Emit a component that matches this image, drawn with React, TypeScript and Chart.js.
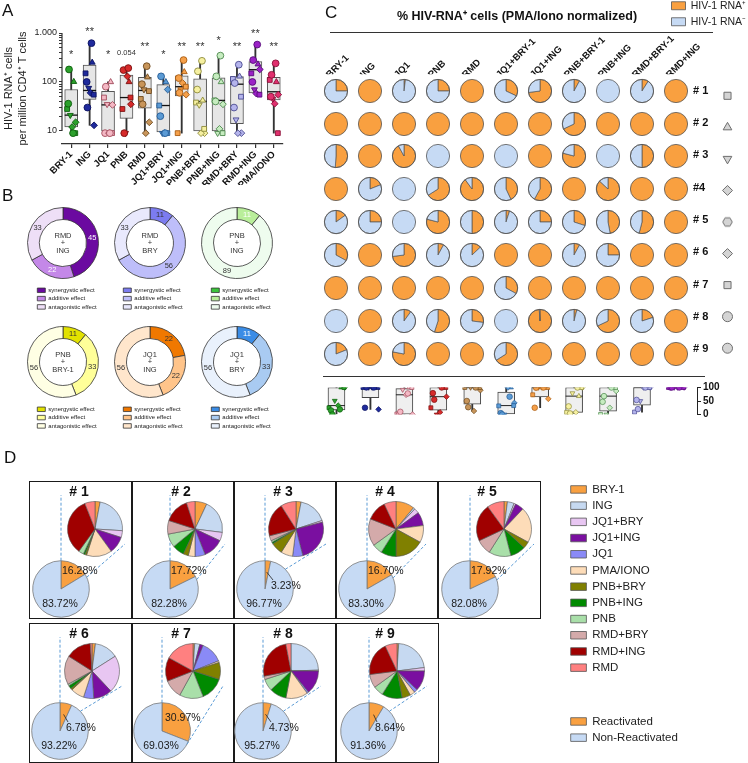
import React, { useEffect, useRef } from 'react';
import { Chart, registerables } from 'chart.js';

Chart.register(...registerables);
Chart.defaults.font.family = '"Liberation Sans", Arial, sans-serif';
Chart.defaults.color = '#222';
const FONT = '"Liberation Sans", Arial, sans-serif';

// ================= DATA =================
// Panel A
const catsA = ['BRY-1', 'ING', 'JQ1', 'PNB', 'RMD', 'JQ1+BRY', 'JQ1+ING', 'PNB+BRY', 'PNB+ING', 'RMD+BRY', 'RMD+ING', 'PMA/IONO'];
const minA = [9, 13, 9, 9, 9, 9, 9, 9, 9, 9, 55, 9];
const q1A = [12, 44, 10, 18, 29, 9.5, 52, 10, 10, 14, 60, 43];
const medA = [21, 67, 34, 48, 67, 33, 80, 40, 42, 90, 178, 63];
const q3A = [70, 222, 64, 138, 125, 88, 133, 116, 122, 128, 260, 125];
const maxA = [180, 620, 100, 192, 210, 130, 280, 270, 345, 225, 580, 240];
const pointsBRY = [28, 101, 21, 15, 36, 12, 9, 180, 9];
const pointsING = [150, 250, 75, 13, 100, 60, 55, 30, 620];
const pointsJQ1 = [48, 100, 35, 34, 9, 9, 9, 80, 9];
const pointsPNB = [28, 100, 9, 35, 175, 130, 48, 9, 192];
const pointsRMD = [45, 125, 70, 15, 90, 9, 65, 35, 210];
const pointsJQ1BRY = [33, 100, 9, 70, 20, 9, 9, 130, 9];
const pointsJQ1ING = [9, 160, 70, 55, 120, 95, 80, 60, 280];
const pointsPNBBRY = [38, 42, 34, 9, 70, 9, 11, 165, 270];
const pointsPNBING = [42, 100, 9, 35, 40, 11, 9, 130, 345];
const pointsRMDBRY = [115, 130, 17, 9, 30, 9, 50, 95, 225];
const pointsRMDING = [150, 230, 70, 180, 100, 58, 55, 280, 580];
const pointsPMA = [110, 100, 45, 55, 50, 36, 9, 140, 240];
const pointsA = [pointsBRY, pointsING, pointsJQ1, pointsPNB, pointsRMD, pointsJQ1BRY, pointsJQ1ING, pointsPNBBRY, pointsPNBING, pointsRMDBRY, pointsRMDING, pointsPMA];
const sigA = ['*', '**', '*', '0.054', '**', '*', '**', '**', '*', '**', '**', '**'];
const sigYA = [350, 1070, 350, 390, 528, 350, 528, 528, 703, 528, 935, 528];
const yTicksA = [10, 20, 30, 40, 50, 60, 70, 80, 90, 100, 200, 300, 400, 500, 600, 700, 800, 900, 1000];

// Panel B
const namesB = [['RMD', '+', 'ING'], ['RMD', '+', 'BRY'], ['PNB', '+', 'ING'], ['PNB', '+', 'BRY-1'], ['JQ1', '+', 'ING'], ['JQ1', '+', 'BRY']];
const effectLabels = ['synergystic effect', 'additive effect', 'antagonistic effect'];
const synergyB = [45, 11, 0, 11, 22, 11];
const additiveB = [22, 56, 11, 33, 22, 33];
const antagonB = [33, 33, 89, 56, 56, 56];

// Panel C
const colsC = ['BRY-1', 'ING', 'JQ1', 'PNB', 'RMD', 'JQ1+BRY-1', 'JQ1+ING', 'PNB+BRY-1', 'PNB+ING', 'RMD+BRY-1', 'RMD+ING'];
const donorLabels = ['# 1', '# 2', '# 3', '#4', '# 5', '# 6', '# 7', '# 8', '# 9'];
const rnaPos1 = [25, 100, 2, 25, 100, 32, 73, 8, 0, 9, 100];
const rnaPos2 = [100, 100, 100, 100, 100, 100, 100, 68, 100, 100, 100];
const rnaPos3 = [51, 100, 92, 0, 100, 0, 100, 79, 0, 50, 100];
const rnaPos4 = [100, 19, 0, 66, 90, 43, 58, 100, 87, 100, 100];
const rnaPos5 = [15, 25, 0, 79, 50, 5, 25, 30, 47, 54, 100];
const rnaPos6 = [33, 100, 73, 8, 13, 100, 100, 8, 25, 100, 100];
const rnaPos7 = [100, 100, 100, 100, 100, 33, 100, 100, 100, 100, 100];
const rnaPos8 = [0, 100, 10, 55, 27, 0, 99, 4, 68, 20, 100];
const rnaPos9 = [19, 100, 78, 100, 100, 66, 100, 100, 100, 100, 100];
const rnaPos = [rnaPos1, rnaPos2, rnaPos3, rnaPos4, rnaPos5, rnaPos6, rnaPos7, rnaPos8, rnaPos9];
const legendC = ['HIV-1 RNA⁺', 'HIV-1 RNA⁻'];
const miniTicks = [0, 50, 100];

// Panel D
const legendD = ['BRY-1', 'ING', 'JQ1+BRY', 'JQ1+ING', 'JQ1', 'PMA/IONO', 'PNB+BRY', 'PNB+ING', 'PNB', 'RMD+BRY', 'RMD+ING', 'RMD'];
const shareD1 = [3, 23, 4, 10, 0, 15, 1, 1, 3, 0, 34, 6];
const shareD2 = [7, 20, 5, 12, 6, 4, 3, 7, 8, 8, 15, 5];
const shareD3 = [3, 17, 1, 25, 6, 7, 7, 1, 1, 3, 20, 9];
const shareD4 = [11, 1, 3, 8, 0, 10, 17, 9, 6, 16, 12, 7];
const shareD5 = [2, 4, 1, 5, 0, 21, 4, 9, 13, 9, 22, 10];
const shareD6 = [2, 14, 22, 11, 6, 8, 1, 2, 1, 17, 15, 1];
const shareD7 = [1, 3, 0, 2, 13, 1, 10, 14, 14, 11, 14, 17];
const shareD8 = [0, 24.5, 0.5, 14, 1, 13, 0, 10, 7, 2, 25, 3];
const shareD9 = [1, 22, 2, 12, 2, 3, 5, 12, 6, 8, 20, 7];
const sharesD = [shareD1, shareD2, shareD3, shareD4, shareD5, shareD6, shareD7, shareD8, shareD9];
const reactD = [16.28, 17.72, 3.23, 16.7, 17.92, 6.78, 30.97, 4.73, 8.64];
const donorTitlesD = ['# 1', '# 2', '# 3', '# 4', '# 5', '# 6', '# 7', '# 8', '# 9'];
const legendReact = ['Reactivated', 'Non-Reactivated'];

// ================= STYLES =================
const fillA = ['#2ca02c', '#1f2a9c', '#f4b8c4', '#d62a2a', '#c8955a', '#5b9bd5', '#f5a04a', '#f6f0a0', '#c6ecc0', '#b4b4ec', '#9b22c6', '#e0306e'];
const edgeA = ['#0b5e0b', '#0b1260', '#a04a5a', '#7a1010', '#6e4a1e', '#245a94', '#a85a10', '#8c8a3a', '#4f8a4f', '#4a4a90', '#560a78', '#8a1038'];
const donorShapes = ['rect', 'triangle', 'triangle', 'rectRot', 'circle', 'rectRot', 'rect', 'circle', 'circle'];
const donorRot = [0, 0, 180, 0, 0, 0, 0, 0, 0];
const jitter = [-0.22, 0.14, -0.05, 0.24, -0.16, 0.05, 0.22, -0.12, 0.1];
const colorsB = [
  ['#6b0aa0', '#c488e8', '#eedff7'],
  ['#7c7cf0', '#bebefa', '#e9e9fd'],
  ['#3cc43c', '#b9ee9a', '#eefcee'],
  ['#e2e200', '#ffff99', '#ffffe4'],
  ['#f07800', '#ffc48a', '#ffe6cc'],
  ['#3a8ce6', '#a9cbf2', '#e9f1fc'],
];
const labelColB = [
  ['#fff', '#fff', '#333'],
  ['#333', '#333', '#333'],
  ['#333', '#fff', '#333'],
  ['#333', '#333', '#333'],
  ['#333', '#333', '#333'],
  ['#fff', '#333', '#333'],
];
const donutCX = [63, 150, 237];
const donutCY = [243, 362];
const legendBX = [35, 121, 209];
const legendBY = [285, 404];
const ORANGE = '#f9a040';
const BLUE = '#c6daf4';
const colorsD = ['#f9a040', '#c6d9f1', '#e8c6f2', '#7a0fa0', '#8a8af6', '#fddcb8', '#808000', '#008a00', '#a9dfa9', '#d4aaaa', '#a00000', '#ff8080'];
const panelXD = [29, 131, 233, 335, 437, 29, 131, 233, 335];
const panelYD = [481, 481, 481, 481, 481, 623, 623, 623, 623];
const bigDX = [32, 39, 32, 32, 33, 31, 31, 30, 34];
const smallDX = [66, 64, 63, 61, 67, 63, 62, 58, 62];
const colX = (i: number) => 336 + 34 * i;
const rowY = (j: number) => 90.7 + 32.875 * j;

// ================= HELPERS =================
const baseOpts = (extra: any = {}) => ({
  animation: false,
  responsive: false,
  maintainAspectRatio: false,
  events: [],
  ...extra,
  plugins: { legend: { display: false }, tooltip: { enabled: false }, ...(extra.plugins || {}) },
});

function ChartCanvas({ x, y, w, h, make }: { x: number; y: number; w: number; h: number; make: () => any }) {
  const ref = useRef<HTMLCanvasElement | null>(null);
  useEffect(() => {
    if (!ref.current) return;
    const chart = new Chart(ref.current, make());
    return () => chart.destroy();
  }, []);
  return (
    <canvas
      ref={ref}
      width={w}
      height={h}
      style={{ position: 'absolute', left: x, top: y, width: w, height: h }}
    />
  );
}

function quant(sorted: number[], p: number) {
  const pos = p * (sorted.length + 1) - 1;
  const lo = Math.max(0, Math.min(sorted.length - 1, Math.floor(pos)));
  const hi = Math.max(0, Math.min(sorted.length - 1, Math.ceil(pos)));
  const f = pos - Math.floor(pos);
  return sorted[lo] + (sorted[hi] - sorted[lo]) * f;
}

const outlinePlugin = {
  id: 'outline',
  afterDatasetsDraw(chart: any, _a: any, opts: any) {
    const arc = chart.getDatasetMeta(0).data[0];
    if (!arc) return;
    const ctx = chart.ctx;
    ctx.save();
    ctx.beginPath();
    ctx.arc(arc.x, arc.y, arc.outerRadius, 0, Math.PI * 2);
    ctx.strokeStyle = opts.color || '#555';
    ctx.lineWidth = opts.width || 0.8;
    ctx.stroke();
    ctx.restore();
  },
};

// ================= PANEL A =================
function makeA() {
  const whisk = catsA.map((_, i) => ({ x: i, y: [minA[i], maxA[i]] }));
  const boxes = catsA.map((_, i) => ({ x: i, y: [q1A[i], q3A[i]] }));
  const meds = catsA.map((_, i) => ({ x: i, y: medA[i] }));
  const pts: any[] = [];
  const st: any[] = [], rot: number[] = [], fill: string[] = [], edge: string[] = [];
  pointsA.forEach((vals, i) =>
    vals.forEach((v, d) => {
      pts.push({ x: i + jitter[d], y: v });
      st.push(donorShapes[d]);
      rot.push(donorRot[d]);
      fill.push(fillA[i]);
      edge.push(edgeA[i]);
    })
  );
  const plugin = {
    id: 'aExtras',
    afterDraw(chart: any) {
      const { ctx, scales, chartArea } = chart;
      const xs = scales.x, ys = scales.y;
      ctx.save();
      ctx.strokeStyle = '#333';
      ctx.lineWidth = 1.2;
      ctx.beginPath();
      ctx.moveTo(chartArea.left, ys.getPixelForValue(10));
      ctx.lineTo(chartArea.left, ys.getPixelForValue(1000));
      ctx.stroke();
      ctx.fillStyle = '#333';
      ctx.textAlign = 'center';
      ctx.textBaseline = 'middle';
      sigA.forEach((s, i) => {
        ctx.font = s.startsWith('0') ? `7.5px ${FONT}` : `11px ${FONT}`;
        ctx.fillText(s, xs.getPixelForValue(i), ys.getPixelForValue(sigYA[i]));
      });
      ctx.restore();
    },
  };
  return {
    type: 'bar',
    data: {
      datasets: [
        { type: 'bar', data: whisk, backgroundColor: '#333', barThickness: 1.2, grouped: false, order: 3 },
        { type: 'bar', data: boxes, backgroundColor: '#e6e6e6', borderColor: '#555', borderWidth: 1, borderSkipped: false, barThickness: 13, grouped: false, order: 2 },
        { type: 'scatter', data: meds, pointStyle: 'line', pointRadius: 6.5, borderColor: '#111', borderWidth: 1.3, order: 1 },
        { type: 'scatter', data: pts, pointStyle: st, rotation: rot, pointRadius: 3.4, backgroundColor: fill, borderColor: edge, borderWidth: 0.9, order: 0 },
      ],
    },
    options: baseOpts({
      layout: { padding: { top: 33, right: 17, left: 0, bottom: 0 } },
      scales: {
        x: {
          type: 'linear', min: -0.5, max: 11.5, offset: false,
          afterBuildTicks: (s: any) => { s.ticks = catsA.map((_, i) => ({ value: i })); },
          afterFit: (s: any) => { s.height = 41; },
          ticks: { autoSkip: false, minRotation: 45, maxRotation: 45, padding: 1, color: '#111', font: { size: 9.5, weight: 'bold' }, callback: (v: any) => catsA[v] ?? '' },
          grid: { offset: false, drawOnChartArea: false, drawTicks: true, tickLength: 4, color: '#333', lineWidth: 1.2 },
          border: { display: true, color: '#333', width: 1.2 },
        },
        y: {
          type: 'logarithmic', min: 5.4, max: 1000,
          afterBuildTicks: (s: any) => { s.ticks = yTicksA.map((v) => ({ value: v })); },
          afterFit: (s: any) => { s.width = 62; },
          ticks: { autoSkip: false, padding: 2, color: '#222', font: { size: 9 }, callback: (v: any) => (v === 1000 ? '1.000' : v === 100 ? '100' : v === 10 ? '10' : '') },
          grid: { drawOnChartArea: false, drawTicks: true, tickLength: 3, color: '#333' },
          border: { display: false },
          title: { display: true, text: ['HIV-1 RNA⁺ cells', 'per million CD4⁺ T cells'], color: '#222', font: { size: 11, lineHeight: 1.3 }, padding: { top: 2, bottom: 0 } },
        },
      },
    }),
    plugins: [plugin],
  };
}

// ================= PANEL B =================
function makeDonut(k: number) {
  const plugin = {
    id: 'donutText',
    afterDatasetsDraw(chart: any) {
      const meta = chart.getDatasetMeta(0);
      const ctx = chart.ctx;
      const a0 = meta.data[0];
      ctx.save();
      ctx.textAlign = 'center';
      ctx.textBaseline = 'middle';
      ctx.font = `7.5px ${FONT}`;
      ctx.fillStyle = '#333';
      const offs = [-7, 0, 7.5];
      namesB[k].forEach((t, li) => ctx.fillText(t, a0.x, a0.y + offs[li]));
      meta.data.forEach((arc: any, i: number) => {
        const v = chart.data.datasets[0].data[i];
        if (!v) return;
        const p = arc.tooltipPosition();
        ctx.fillStyle = labelColB[k][i];
        ctx.fillText(String(v), p.x, p.y);
      });
      ctx.restore();
    },
  };
  return {
    type: 'doughnut',
    data: {
      labels: effectLabels,
      datasets: [{ data: [synergyB[k], additiveB[k], antagonB[k]], backgroundColor: colorsB[k], borderColor: '#333', borderWidth: 0.8, radius: 35.5, cutout: `${(23.5 / 35.5) * 100}%` }],
    },
    options: baseOpts({ layout: { padding: 0 } }),
    plugins: [plugin],
  };
}

function makeLegend(labels: string[], fills: string[], o: { bw: number; bh: number; pad: number; fs: number; border: string; lw: number }) {
  return {
    type: 'bar',
    data: {
      labels: [],
      datasets: labels.map((l, i) => ({ label: l, data: [], backgroundColor: fills[i], borderColor: o.border, borderWidth: o.lw })),
    },
    options: {
      animation: false, responsive: false, maintainAspectRatio: false, events: [],
      layout: { padding: 0 },
      scales: { x: { display: false }, y: { display: false } },
      plugins: {
        tooltip: { enabled: false },
        legend: { display: true, position: 'left', align: 'start', labels: { boxWidth: o.bw, boxHeight: o.bh, padding: o.pad, color: '#222', font: { size: o.fs } } },
      },
    },
  };
}

// ================= PANEL C =================
function makeCPie(v: number) {
  const full = v === 0 || v === 100;
  return {
    type: 'pie',
    data: {
      labels: legendC,
      datasets: [{ data: [v, 100 - v], backgroundColor: [ORANGE, BLUE], borderColor: '#555', borderWidth: full ? 0 : 0.7, radius: 11.6 }],
    },
    options: baseOpts({ layout: { padding: 0 }, plugins: { outline: { color: '#555', width: 0.8 } } }),
    plugins: [outlinePlugin],
  };
}

function makeGrid() {
  return {
    type: 'scatter',
    data: { datasets: [] },
    options: baseOpts({
      layout: { padding: { left: 9, right: 0, top: 0, bottom: 1.9 } },
      scales: {
        x: {
          type: 'linear', position: 'top', min: -0.5, max: 10.5,
          afterBuildTicks: (s: any) => { s.ticks = colsC.map((_, i) => ({ value: i })); },
          afterFit: (s: any) => { s.height = 74.3; },
          ticks: { autoSkip: false, minRotation: 45, maxRotation: 45, padding: -6, color: '#111', font: { size: 9.5, weight: 'bold' }, callback: (v: any) => colsC[v] ?? '' },
          grid: { display: false, drawTicks: false },
          border: { display: false },
        },
        y: {
          type: 'linear', position: 'right', reverse: true, min: -0.5, max: 8.5,
          afterBuildTicks: (s: any) => { s.ticks = donorLabels.map((_, j) => ({ value: j })); },
          afterFit: (s: any) => { s.width = 55; },
          ticks: { autoSkip: false, padding: 0, color: '#111', font: { size: 11, weight: 'bold' }, callback: (v: any) => donorLabels[v] ?? '' },
          grid: { display: false, drawTicks: false },
          border: { display: false },
        },
      },
    }),
  };
}

function hexCanvas(r: number) {
  const s = Math.ceil(r * 2 + 3);
  const c = document.createElement('canvas');
  c.width = s;
  c.height = s;
  const g = c.getContext('2d')!;
  g.beginPath();
  for (let i = 0; i < 6; i++) {
    const a = (i * Math.PI) / 3;
    const px = s / 2 + r * Math.cos(a), py = s / 2 + r * Math.sin(a);
    if (i === 0) g.moveTo(px, py); else g.lineTo(px, py);
  }
  g.closePath();
  g.fillStyle = '#d4d4d4';
  g.fill();
  g.strokeStyle = '#6e6e6e';
  g.lineWidth = 1;
  g.stroke();
  return c;
}

function makeSymbols() {
  const styles: any[] = donorShapes.slice();
  styles[4] = hexCanvas(4.8);
  return {
    type: 'scatter',
    data: {
      datasets: [
        { data: donorLabels.map((_, j) => ({ x: 0.5, y: j })), pointStyle: styles, rotation: donorRot, pointRadius: 5, backgroundColor: '#d4d4d4', borderColor: '#6e6e6e', borderWidth: 1 },
        { data: [{ x: 0.5, y: 5 }, { x: 0.5, y: 6 }, { x: 0.5, y: 7 }], pointStyle: ['circle', 'rect', 'crossRot'], pointRadius: [1.3, 1.8, 3.8], backgroundColor: '#222', borderColor: ['#222', '#222', '#555'], borderWidth: 1 },
      ],
    },
    options: baseOpts({
      layout: { padding: 0 },
      scales: { x: { display: false, min: 0, max: 1 }, y: { display: false, reverse: true, min: -0.5, max: 8.5 } },
    }),
  };
}

function makeMini() {
  const stats = colsC.map((_, i) => {
    const s = rnaPos.map((r) => r[i]).sort((a, b) => a - b);
    return { min: s[0], q1: quant(s, 0.25), med: quant(s, 0.5), q3: quant(s, 0.75), max: s[s.length - 1] };
  });
  const pts: any[] = [];
  const st: any[] = [], rot: number[] = [], fill: string[] = [], edge: string[] = [];
  colsC.forEach((_, i) =>
    rnaPos.forEach((row, d) => {
      pts.push({ x: i + jitter[d], y: row[i] });
      st.push(donorShapes[d]);
      rot.push(donorRot[d]);
      fill.push(fillA[i]);
      edge.push(edgeA[i]);
    })
  );
  return {
    type: 'bar',
    data: {
      datasets: [
        { type: 'bar', data: stats.map((s, i) => ({ x: i, y: [s.min, s.max] })), backgroundColor: '#333', barThickness: 1.2, grouped: false, order: 3 },
        { type: 'bar', data: stats.map((s, i) => ({ x: i, y: [s.q1, s.q3] })), backgroundColor: '#efefef', borderColor: '#444', borderWidth: 1, borderSkipped: false, barThickness: 17, grouped: false, order: 2 },
        { type: 'scatter', data: stats.map((s, i) => ({ x: i, y: s.med })), pointStyle: 'line', pointRadius: 8.5, borderColor: '#222', borderWidth: 1, order: 1 },
        { type: 'scatter', data: pts, pointStyle: st, rotation: rot, pointRadius: 2.8, backgroundColor: fill, borderColor: edge, borderWidth: 0.7, order: 0 },
      ],
    },
    options: baseOpts({
      layout: { padding: { left: 9, top: 1, bottom: 0, right: 0 } },
      scales: {
        x: { type: 'linear', display: false, min: -0.5, max: 10.62, offset: false, grid: { offset: false } },
        y: {
          position: 'right', min: 0, max: 100,
          afterBuildTicks: (s: any) => { s.ticks = miniTicks.map((v) => ({ value: v })); },
          afterFit: (s: any) => { s.width = 51; },
          ticks: { autoSkip: false, padding: 2, color: '#111', font: { size: 10, weight: 'bold', lineHeight: 1 } },
          grid: { drawOnChartArea: false, drawTicks: true, tickLength: 4, color: '#222' },
          border: { display: true, color: '#222', width: 1 },
        },
      },
    }),
  };
}

// ================= PANEL D =================
function makeSmallPie(k: number) {
  return {
    type: 'pie',
    data: { labels: legendD, datasets: [{ data: sharesD[k], backgroundColor: colorsD, borderColor: '#555', borderWidth: 0.6, radius: 27.5 }] },
    options: baseOpts({ layout: { padding: 0 } }),
  };
}

function makeBigPie(k: number) {
  const W = 102, H = 139;
  const bx = bigDX[k];
  const sx = smallDX[k], sy = 48;
  const plugin = {
    id: 'bigPieExtras',
    afterDatasetsDraw(chart: any) {
      const ctx = chart.ctx;
      const arc = chart.getDatasetMeta(0).data[0];
      const { x, y, outerRadius: r, startAngle, endAngle } = arc;
      const p = reactD[k];
      ctx.save();
      ctx.strokeStyle = '#5b9bd5';
      ctx.lineWidth = 1;
      ctx.setLineDash([3, 2]);
      ctx.beginPath();
      ctx.moveTo(x, y - r);
      ctx.lineTo(x, 14);
      ctx.stroke();
      const th = Math.max(endAngle + 0.12, -Math.PI / 2 + 0.8);
      ctx.beginPath();
      ctx.moveTo(x + r * Math.cos(th), y + r * Math.sin(th));
      ctx.lineTo(sx + 30, sy + 15);
      ctx.stroke();
      ctx.setLineDash([]);
      ctx.fillStyle = '#1a1a1a';
      ctx.font = `10.5px ${FONT}`;
      ctx.textBaseline = 'middle';
      const txt = p.toFixed(2) + '%';
      if (p >= 10) {
        ctx.textAlign = 'left';
        ctx.fillText(txt, x + (p > 25 ? 3 : 1), y - (p > 25 ? 13 : 18));
      } else {
        const mid = (startAngle + endAngle) / 2;
        ctx.strokeStyle = '#222';
        ctx.lineWidth = 0.8;
        ctx.beginPath();
        ctx.moveTo(x + 0.6 * r * Math.cos(mid), y + 0.6 * r * Math.sin(mid));
        ctx.lineTo(x + 8, y - 9);
        ctx.stroke();
        ctx.textAlign = 'left';
        ctx.fillText(txt, x + 6, y - 3);
      }
      ctx.textAlign = 'center';
      ctx.fillText((100 - p).toFixed(2) + '%', x - 1, y + 15);
      ctx.restore();
    },
  };
  return {
    type: 'pie',
    data: { labels: legendReact, datasets: [{ data: [reactD[k], 100 - reactD[k]], backgroundColor: [ORANGE, BLUE], borderColor: '#7a7a7a', borderWidth: 0.8, radius: 28.3 }] },
    options: baseOpts({ layout: { padding: { left: bx - 30, right: W - bx - 30, top: 78, bottom: H - 138 } } }),
    plugins: [plugin],
  };
}

// ================= APP =================
const letter = (t: string, left: number, top: number) => (
  <div key={t} style={{ position: 'absolute', left, top, fontSize: 17, lineHeight: '17px', color: '#111' }}>{t}</div>
);

export default function App() {
  const cPies: any[] = [];
  rnaPos.forEach((row, j) =>
    row.forEach((v, i) =>
      cPies.push(<ChartCanvas key={`c${j}-${i}`} x={colX(i) - 13} y={Math.round(rowY(j)) - 13} w={26} h={26} make={() => makeCPie(v)} />)
    )
  );
  const donuts: any[] = [];
  const bLegends: any[] = [];
  for (let k = 0; k < 6; k++) {
    const c = k % 3, r = Math.floor(k / 3);
    donuts.push(<ChartCanvas key={`d${k}`} x={donutCX[c] - 40} y={donutCY[r] - 40} w={80} h={80} make={() => makeDonut(k)} />);
    bLegends.push(
      <ChartCanvas key={`bl${k}`} x={legendBX[c]} y={legendBY[r]} w={160} h={34}
        make={() => makeLegend(effectLabels, colorsB[k], { bw: 8, bh: 4.5, pad: 2.3, fs: 6, border: '#333', lw: 0.8 })} />
    );
  }
  const dPanels: any[] = [];
  for (let k = 0; k < 9; k++) {
    const L = panelXD[k], T = panelYD[k];
    const row2 = k >= 5;
    dPanels.push(
      <div key={`pb${k}`} style={{ position: 'absolute', left: L, top: row2 ? 622.5 : 480.5, width: 103.5, height: row2 ? 140 : 138.5, border: '1.5px solid #1a1a1a', boxSizing: 'border-box' }} />
    );
    dPanels.push(<ChartCanvas key={`bp${k}`} x={L} y={T} w={102} h={139} make={() => makeBigPie(k)} />);
    dPanels.push(<ChartCanvas key={`sp${k}`} x={L + smallDX[k] - 30} y={T + 18} w={60} h={60} make={() => makeSmallPie(k)} />);
    dPanels.push(
      <div key={`pt${k}`} style={{ position: 'absolute', left: L + 20, top: T + 2, width: 60, height: 16, lineHeight: '16px', textAlign: 'center', fontWeight: 'bold', fontSize: 14, color: '#111' }}>
        {donorTitlesD[k]}
      </div>
    );
  }
  return (
    <div style={{ position: 'fixed', left: 0, top: 0, width: 748, height: 763, overflow: 'hidden', background: '#fff', fontFamily: FONT }}>
      <ChartCanvas x={0} y={0} w={300} h={185} make={makeA} />
      {donuts}
      {bLegends}
      <ChartCanvas x={310} y={0} w={438} h={372} make={makeGrid} />
      {cPies}
      <ChartCanvas x={715} y={74} w={25} h={296} make={makeSymbols} />
      <ChartCanvas x={310} y={378} w={438} h={46} make={makeMini} />
      <ChartCanvas x={666} y={-5} w={200} h={40}
        make={() => makeLegend(legendC, [ORANGE, BLUE], { bw: 14, bh: 8, pad: 5.5, fs: 10.5, border: '#555', lw: 0.8 })} />
      <div style={{ position: 'absolute', left: 330, top: 32, width: 383, height: 1, background: '#333' }} />
      <div style={{ position: 'absolute', left: 323, top: 376, width: 382, height: 1, background: '#333' }} />
      <div style={{ position: 'absolute', left: 317, top: 8, width: 400, height: 16, lineHeight: '16px', textAlign: 'center', fontWeight: 'bold', fontSize: 12.5, color: '#111' }}>
        % HIV-RNA⁺ cells (PMA/Iono normalized)
      </div>
      {dPanels}
      <ChartCanvas x={566} y={479} w={280} h={215}
        make={() => makeLegend(legendD, colorsD, { bw: 15.7, bh: 7.5, pad: 4.7, fs: 11.5, border: '#555', lw: 0.8 })} />
      <ChartCanvas x={566} y={711} w={280} h={45}
        make={() => makeLegend(legendReact, [ORANGE, BLUE], { bw: 15.7, bh: 7.5, pad: 4.7, fs: 11.5, border: '#555', lw: 0.8 })} />
      {letter('A', 2, 2)}
      {letter('B', 2, 187)}
      {letter('C', 325, 4)}
      {letter('D', 4, 449)}
    </div>
  );
}
